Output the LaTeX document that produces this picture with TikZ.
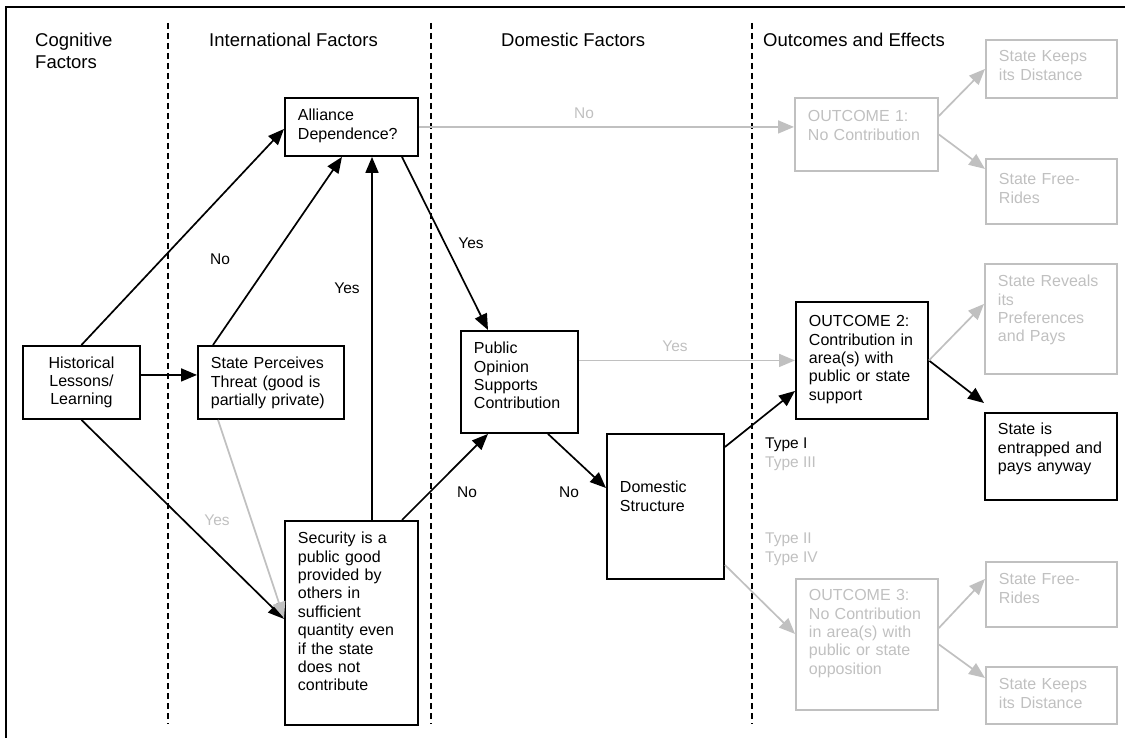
\documentclass[tikz,border=0pt]{standalone}
\usepackage{fontspec}
\setmainfont{Liberation Sans}
\usetikzlibrary{arrows.meta,calc}
\definecolor{lg}{RGB}{192,192,192}
\begin{document}
\begin{tikzpicture}[x=1pt,y=-1pt,
  bx/.style={draw, line width=1.9pt, inner xsep=13pt, inner ysep=10pt, anchor=north west,
    align=left, font=\fontsize{16}{18.4}\selectfont, text height=12.7pt},
  gbx/.style={bx, draw=lg, text=lg},
  arr/.style={line width=1.7pt, -{Triangle[length=16pt,width=13pt]}},
  garr/.style={arr, color=lg},
  lbl/.style={inner sep=0pt, font=\fontsize{15.5}{18}\selectfont},
  glbl/.style={lbl, text=lg},
  hd/.style={inner sep=0pt, anchor=base west, align=left, font=\fontsize{18.5}{22}\selectfont},
  sepline/.style={line width=1.8pt, dash pattern=on 6pt off 4pt}
]
\useasboundingbox (0,0) rectangle (1125,738);
\draw[line width=2.2pt] (6,7) rectangle (1145,755);

% column separators
\draw[sepline] (168,23) -- (168,724);
\draw[sepline] (431,23) -- (431,724);
\draw[sepline] (752,23) -- (752,724);

% headings
\node[hd, text width=110pt] (hcog) at (35,46.6) {Cognitive\\Factors};
\node[hd] (hint) at (209,46.6) {International Factors};
\node[hd] (hdom) at (501,46.6) {Domestic Factors};
\node[hd] (hout) at (763,46.6) {Outcomes and Effects};

% black boxes
\node[draw, line width=1.9pt, anchor=north west, inner sep=0pt, minimum width=117pt, minimum height=73pt,
  align=center, font=\fontsize{16}{18.4}\selectfont] (hist) at (22,345) {Historical\\Lessons/\\Learning};
\node[bx, text width=107pt, text depth=25.3pt] (alli) at (284,97) {Alliance\\Dependence?};
\node[bx, text width=120pt, text depth=40.3pt] (perc) at (197,345) {State Perceives\\Threat (good is\\partially private)};
\node[bx, text width=107pt, text depth=171.3pt] (sec) at (284,520) {Security is a\\public good\\provided by\\others in\\sufficient\\quantity even\\if the state\\does not\\contribute};
\node[bx, text width=91pt, text depth=69.3pt] (pub) at (460,330) {Public\\Opinion\\Supports\\Contribution};
\node[bx, text width=91pt, text height=48.7pt, text depth=76.3pt] (dom) at (606,433) {Domestic\\Structure};
\node[bx, text width=106pt, text height=14.7pt, text depth=82.3pt] (o2) at (795,301) {OUTCOME 2:\\Contribution in\\area(s) with\\public or state\\support};
\node[bx, text width=106pt, text height=11.7pt, text depth=55.3pt] (ent) at (984,412) {State is\\entrapped and\\pays anyway};

% gray boxes
\node[gbx, text width=117pt, text height=13.7pt, text depth=39.3pt] (o1) at (794,97) {OUTCOME 1:\\No Contribution};
\node[gbx, text width=105pt, text height=11.7pt, text depth=26.3pt] (keepsT) at (985,39) {State Keeps\\its Distance};
\node[gbx, text width=105pt, text height=15.7pt, text depth=29.3pt] (freeT) at (985,158) {State Free-\\Rides};
\node[gbx, text width=106pt, text depth=77.3pt] (rev) at (984,263) {State Reveals\\its\\Preferences\\and Pays};
\node[gbx, text width=116pt, text height=11.7pt, text depth=99.3pt] (o3) at (795,578) {OUTCOME 3:\\No Contribution\\in area(s) with\\public or state\\opposition};
\node[gbx, text width=105pt, text depth=32.3pt] (freeB) at (985,561) {State Free-\\Rides};
\node[gbx, text width=105pt, text depth=24.3pt] (keepsB) at (985,666) {State Keeps\\its Distance};

% black connectors
\draw[arr] (hist.north) -- ([yshift=-2pt]alli.west);
\draw[arr] ([yshift=7.5pt]hist.east) -- ([yshift=7.5pt]perc.west);
\draw[arr] (hist.south) -- ([yshift=4pt]sec.west);
\draw[arr] ([xshift=16pt]perc.north west) -- ([xshift=58pt]alli.south west);
\draw[arr] ([xshift=88pt]sec.north west) -- ([xshift=88pt]alli.south west);
\draw[arr] ([xshift=118pt]alli.south west) -- ([xshift=28pt]pub.north west);
\draw[arr] ([xshift=118pt]sec.north west) -- ([xshift=28pt]pub.south west);
\draw[arr] ([xshift=88pt]pub.south west) -- ([yshift=-55pt]dom.north west);
\draw[arr] ([yshift=-14pt]dom.north east) -- ([yshift=-30.5pt]o2.west);
\draw[arr] (o2.east) -- ([yshift=9pt]ent.north west);

% gray connectors
\draw[garr] ([xshift=21pt]perc.south west) -- ([yshift=5pt]sec.west);
\draw[garr] (alli.east) -- (alli.east -| o1.west);
\draw[garr] (pub.east |- o2.west) -- (o2.west);
\draw[garr] ([yshift=15pt]dom.south east) -- ([yshift=10.5pt]o3.west);
\draw[garr] ([yshift=18.5pt]o1.east) -- (keepsT.west);
\draw[garr] (o1.east) -- ([yshift=22.5pt]freeT.west);
\draw[garr] (o2.east) -- ([yshift=15pt]rev.west);
\draw[garr] ([yshift=16.5pt]o3.east) -- ([yshift=15.5pt]freeB.west);
\draw[garr] (o3.east) -- ([yshift=17.5pt]keepsB.west);

% labels
\node[lbl] (lno1) at (220,259) {No};
\node[lbl] (lyes1) at (347,288) {Yes};
\node[glbl] (lyes2) at (217,520) {Yes};
\node[lbl] (lyes3) at (471,243) {Yes};
\node[glbl] (lno2) at (584,113) {No};
\node[lbl] (lno3) at (467,492) {No};
\node[lbl] (lno4) at (569,492) {No};
\node[glbl] (lyes4) at (675,346) {Yes};
\node[lbl, anchor=base west] (lt1) at (765,448.5) {Type I};
\node[glbl, anchor=base west] (lt3) at (765,467.5) {Type III};
\node[glbl, anchor=base west] (lt2) at (765,543.5) {Type II};
\node[glbl, anchor=base west] (lt4) at (765,562.5) {Type IV};
\end{tikzpicture}
\end{document}
